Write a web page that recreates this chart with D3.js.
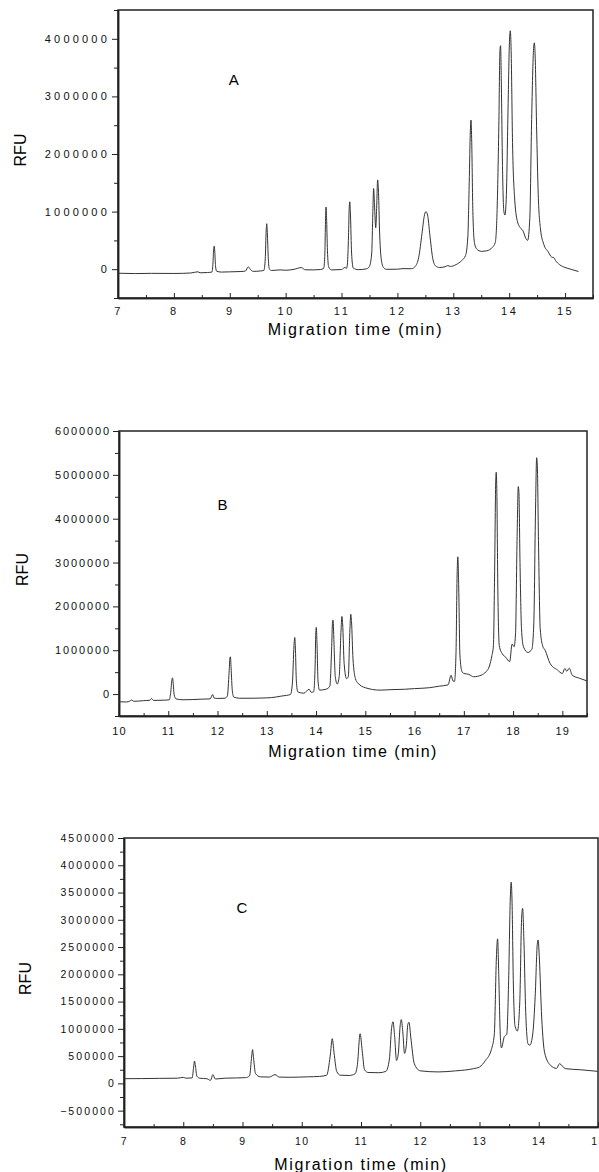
<!DOCTYPE html>
<html>
<head>
<meta charset="utf-8">
<title>Migration time chromatograms</title>
<style>
  body { margin: 0; background: #fff; }
  svg { display: block; font-family: 'Liberation Sans', Arial, sans-serif; }
  .trace { fill: none; stroke: #333; stroke-width: 1; }
  .frame { fill: none; stroke: #222; stroke-width: 1.5; }
  .axis path, .axis line { stroke: #222; }
  .axis path { stroke-width: 1.5; }
  .axis text { fill: #111; }
</style>
</head>
<body>
<svg width="599" height="1172"></svg>
<script src="https://d3js.org/d3.v7.min.js"></script>
<script>

// ---- data: [time (min), RFU] ----
const traceA = [[7.0,-70000],[7.3,-76000],[7.6,-72000],[8.0,-74000],[8.3,-66000],[8.43,-45000],[8.47,-62000],[8.6,-58000],
  [8.68,-50000],[8.70,120000],[8.712,360000],[8.722,400000],[8.732,300000],[8.745,60000],[8.765,-35000],[8.85,-50000],
  [9.0,-46000],[9.2,-40000],[9.28,-32000],[9.33,40000],[9.37,-5000],[9.42,-38000],[9.55,-30000],[9.61,-22000],
  [9.635,180000],[9.652,680000],[9.662,790000],[9.672,640000],[9.69,180000],[9.71,0],[9.75,-22000],[9.9,-12000],
  [10.0,-18000],[10.15,-2000],[10.28,28000],[10.35,-10000],[10.5,-12000],[10.62,-6000],[10.68,15000],[10.70,220000],
  [10.712,780000],[10.722,1080000],[10.732,900000],[10.748,320000],[10.77,40000],[10.82,-12000],[11.0,-6000],[11.06,30000],
  [11.09,15000],[11.105,90000],[11.125,580000],[11.138,1080000],[11.148,1170000],[11.16,940000],[11.18,280000],[11.21,20000],
  [11.3,-8000],[11.45,8000],[11.5,50000],[11.54,280000],[11.562,1050000],[11.574,1400000],[11.59,1120000],[11.612,720000],
  [11.628,1050000],[11.646,1550000],[11.662,1330000],[11.68,680000],[11.71,180000],[11.75,30000],[11.8,-2000],[12.0,0],
  [12.1,10000],[12.25,8000],[12.32,50000],[12.38,200000],[12.44,620000],[12.48,920000],[12.51,1000000],[12.54,940000],
  [12.58,600000],[12.63,200000],[12.68,60000],[12.75,30000],[12.85,42000],[12.9,62000],[12.95,48000],[13.05,80000],
  [13.15,150000],[13.22,240000],[13.26,560000],[13.285,1500000],[13.305,2400000],[13.316,2590000],[13.33,2200000],[13.35,1000000],
  [13.38,450000],[13.42,350000],[13.5,310000],[13.6,320000],[13.7,380000],[13.75,460000],[13.78,900000],[13.815,2500000],
  [13.835,3800000],[13.846,3880000],[13.86,3200000],[13.88,1800000],[13.905,1000000],[13.925,940000],[13.95,1300000],[13.98,2800000],
  [14.005,3950000],[14.02,4140000],[14.035,3800000],[14.06,2200000],[14.1,1200000],[14.15,820000],[14.2,720000],[14.25,660000],
  [14.3,530000],[14.33,500000],[14.37,900000],[14.4,2500000],[14.435,3800000],[14.45,3930000],[14.465,3700000],[14.49,2500000],
  [14.52,1300000],[14.56,700000],[14.62,430000],[14.7,300000],[14.76,210000],[14.8,200000],[14.83,150000],[14.9,80000],
  [15.0,30000],[15.1,0],[15.24,-40000]];

const traceB = [[10.0,-175000],[10.15,-180000],[10.22,-160000],[10.26,-135000],[10.3,-165000],[10.5,-150000],[10.63,-140000],
  [10.66,-100000],[10.7,-145000],[10.9,-140000],[11.02,-130000],[11.05,40000],[11.075,330000],[11.087,370000],[11.1,250000],
  [11.12,-20000],[11.16,-110000],[11.3,-130000],[11.5,-125000],[11.7,-115000],[11.85,-110000],[11.9,-10000],[11.93,-90000],
  [12.0,-100000],[12.15,-95000],[12.2,-40000],[12.235,500000],[12.252,820000],[12.262,850000],[12.275,600000],[12.3,80000],
  [12.33,-70000],[12.45,-95000],[12.7,-95000],[12.9,-90000],[13.1,-80000],[13.3,-45000],[13.4,-30000],[13.48,-10000],
  [13.52,250000],[13.552,1100000],[13.568,1290000],[13.582,1000000],[13.6,300000],[13.63,50000],[13.75,20000],[13.86,110000],
  [13.9,40000],[13.95,50000],[13.98,600000],[13.995,1400000],[14.005,1520000],[14.018,1200000],[14.04,300000],[14.07,90000],
  [14.2,110000],[14.28,180000],[14.315,1000000],[14.335,1650000],[14.345,1690000],[14.36,1300000],[14.39,400000],[14.43,230000],
  [14.47,400000],[14.505,1400000],[14.525,1770000],[14.54,1600000],[14.57,700000],[14.62,350000],[14.655,400000],[14.685,1400000],
  [14.705,1820000],[14.72,1650000],[14.75,800000],[14.8,350000],[14.85,250000],[15.0,145000],[15.3,90000],[15.5,100000],
  [15.8,110000],[16.0,125000],[16.3,145000],[16.5,180000],[16.68,210000],[16.74,430000],[16.78,300000],[16.81,290000],
  [16.84,900000],[16.865,2800000],[16.878,3130000],[16.895,2500000],[16.92,900000],[16.96,520000],[17.0,470000],[17.1,450000],
  [17.2,395000],[17.35,430000],[17.45,510000],[17.52,640000],[17.57,880000],[17.6,1100000],[17.625,2800000],[17.648,4900000],
  [17.658,5060000],[17.67,4600000],[17.69,2400000],[17.72,1100000],[17.78,920000],[17.85,840000],[17.93,740000],[17.98,1140000],
  [18.02,1080000],[18.05,1400000],[18.08,3500000],[18.105,4730000],[18.118,4600000],[18.14,3000000],[18.17,1500000],[18.21,1080000],
  [18.3,950000],[18.38,1020000],[18.42,1600000],[18.455,4200000],[18.478,5390000],[18.492,5200000],[18.515,3500000],[18.55,1500000],
  [18.6,1100000],[18.65,1000000],[18.75,700000],[18.9,550000],[19.0,470000],[19.05,585000],[19.09,520000],[19.14,590000],
  [19.2,430000],[19.35,360000],[19.5,300000]];

const traceC = [[7.0,86000],[7.3,88000],[7.6,92000],[7.9,95000],[8.0,110000],[8.05,95000],[8.15,100000],[8.175,300000],
  [8.19,410000],[8.205,320000],[8.23,130000],[8.28,95000],[8.4,85000],[8.46,55000],[8.5,160000],[8.54,80000],[8.7,95000],
  [8.9,100000],[9.05,105000],[9.12,140000],[9.155,500000],[9.17,620000],[9.185,480000],[9.22,180000],[9.3,120000],[9.45,115000],
  [9.55,160000],[9.62,115000],[9.8,112000],[10.1,120000],[10.3,128000],[10.42,150000],[10.48,500000],[10.515,820000],
  [10.545,560000],[10.59,220000],[10.65,150000],[10.8,145000],[10.9,175000],[10.94,350000],[10.985,910000],[11.02,600000],
  [11.06,250000],[11.12,200000],[11.3,195000],[11.42,220000],[11.48,450000],[11.515,1000000],[11.54,1130000],[11.565,900000],
  [11.6,420000],[11.63,550000],[11.66,1050000],[11.68,1170000],[11.705,950000],[11.735,550000],[11.765,700000],[11.79,1080000],
  [11.81,1120000],[11.84,850000],[11.9,360000],[12.0,230000],[12.3,210000],[12.6,230000],[12.9,270000],[13.0,300000],
  [13.1,420000],[13.2,620000],[13.25,900000],[13.285,2300000],[13.305,2650000],[13.325,2000000],[13.35,900000],[13.37,650000],
  [13.42,860000],[13.46,900000],[13.49,1800000],[13.52,3400000],[13.535,3690000],[13.55,3300000],[13.57,1900000],[13.6,1050000],
  [13.64,960000],[13.68,1500000],[13.71,3000000],[13.728,3210000],[13.75,2600000],[13.78,1300000],[13.82,720000],[13.85,700000],
  [13.9,920000],[13.94,1600000],[13.975,2550000],[13.99,2630000],[14.01,2300000],[14.05,1200000],[14.1,560000],[14.2,330000],
  [14.3,275000],[14.35,360000],[14.45,270000],[14.7,250000],[15.0,220000]];

// tick labels
const xTicksA = [7, 8, 9, 10, 11, 12, 13, 14, 15];
const yTicksA = [0, 1000000, 2000000, 3000000, 4000000];
const xTicksB = [10, 11, 12, 13, 14, 15, 16, 17, 18, 19];
const yTicksB = [0, 1000000, 2000000, 3000000, 4000000, 5000000, 6000000];
const xTicksC = [7, 8, 9, 10, 11, 12, 13, 14, 15];
const yTicksC = [-500000, 0, 500000, 1000000, 1500000, 2000000, 2500000, 3000000, 3500000, 4000000, 4500000];

const xTitle = 'Migration time (min)';
const yTitle = 'RFU';

// layout for each panel
const panels = [
  { trace: traceA, letter: 'A', letterAt: [9.07, 3200000],
    box: { left: 118, top: 10, right: 593, bottom: 298 },
    xDomain: [7, 15.5], yDomain: [-500000, 4500000],
    xTicks: xTicksA, yTicks: yTicksA, xMinorStep: 0.5, yMinorStep: 500000,
    tickFont: 11, yTickSpacing: 3.2, xTickSpacing: 2.5, titleSpacing: 1.7,
    xLabelY: 315, xTitleY: 335, yTitleX: 26 },
  { trace: traceB, letter: 'B', letterAt: [12.1, 4200000],
    box: { left: 119, top: 431, right: 587, bottom: 716 },
    xDomain: [10, 19.5], yDomain: [-500000, 6000000],
    xTicks: xTicksB, yTicks: yTicksB, xMinorStep: 0.5, yMinorStep: 500000,
    tickFont: 11, yTickSpacing: 1.9, xTickSpacing: 1.2, titleSpacing: 1.4,
    xLabelY: 735, xTitleY: 757, yTitleX: 28 },
  { trace: traceC, letter: 'C', letterAt: [8.99, 3120000],
    box: { left: 124, top: 838, right: 598, bottom: 1127 },
    xDomain: [7, 15], yDomain: [-800000, 4500000],
    xTicks: xTicksC, yTicks: yTicksC, xMinorStep: 0.5, yMinorStep: 250000,
    tickFont: 10.5, yTickSpacing: 2.1, xTickSpacing: 1.5, titleSpacing: 1.6,
    xLabelY: 1145, xTitleY: 1170, yTitleX: 31 }
];

const svg = d3.select('svg');

panels.forEach(function(p) {
  const b = p.box;
  const x = d3.scaleLinear().domain(p.xDomain).range([b.left, b.right]);
  const y = d3.scaleLinear().domain(p.yDomain).range([b.bottom, b.top]);
  const g = svg.append('g');

  // minor ticks
  const xMinor = d3.range(p.xDomain[0], p.xDomain[1] + 1e-9, p.xMinorStep)
    .filter(v => !p.xTicks.includes(v));
  const yMinor = d3.range(Math.ceil(p.yDomain[0] / p.yMinorStep) * p.yMinorStep, p.yDomain[1] + 1, p.yMinorStep)
    .filter(v => !p.yTicks.includes(v));

  g.append('g')
    .attr('class', 'axis')
    .attr('transform', `translate(0,${b.bottom})`)
    .call(d3.axisBottom(x).tickValues(xMinor).tickSize(-3).tickSizeOuter(0).tickFormat(''));
  g.append('g')
    .attr('class', 'axis')
    .attr('transform', `translate(${b.left},0)`)
    .call(d3.axisLeft(y).tickValues(yMinor).tickSize(4).tickSizeOuter(0).tickFormat(''));

  // major ticks
  const xAxis = g.append('g')
    .attr('class', 'axis')
    .attr('transform', `translate(0,${b.bottom})`)
    .call(d3.axisBottom(x).tickValues(p.xTicks).tickSize(-5).tickSizeOuter(0).tickFormat(d3.format('d')));
  xAxis.selectAll('text')
    .attr('y', p.xLabelY - b.bottom)
    .attr('dy', 0)
    .style('font-size', p.tickFont + 'px')
    .style('letter-spacing', p.xTickSpacing + 'px');

  const yAxis = g.append('g')
    .attr('class', 'axis')
    .attr('transform', `translate(${b.left},0)`)
    .call(d3.axisLeft(y).tickValues(p.yTicks).tickSize(6).tickSizeOuter(0).tickFormat(d3.format('d')));
  yAxis.selectAll('text')
    .attr('x', -8)
    .style('font-size', p.tickFont + 'px')
    .style('letter-spacing', p.yTickSpacing + 'px');

  // frame
  g.append('rect')
    .attr('class', 'frame')
    .attr('x', b.left).attr('y', b.top)
    .attr('width', b.right - b.left).attr('height', b.bottom - b.top);

  // trace
  const line = d3.line()
    .x(d => x(d[0]))
    .y(d => y(d[1]))
    .curve(d3.curveMonotoneX);
  g.append('path')
    .datum(p.trace)
    .attr('class', 'trace')
    .attr('d', line);

  // panel letter
  g.append('text')
    .attr('x', x(p.letterAt[0]))
    .attr('y', y(p.letterAt[1]))
    .attr('text-anchor', 'middle')
    .style('font-size', '15px')
    .text(p.letter);

  // axis titles
  g.append('text')
    .attr('x', (b.left + b.right) / 2)
    .attr('y', p.xTitleY)
    .attr('text-anchor', 'middle')
    .style('font-size', '16px')
    .style('letter-spacing', p.titleSpacing + 'px')
    .text(xTitle);

  g.append('text')
    .attr('transform', `translate(${p.yTitleX},${(b.top + b.bottom) / 2 - 4}) rotate(-90)`)
    .attr('text-anchor', 'middle')
    .style('font-size', '16px')
    .text(yTitle);
});

</script>
</body>
</html>
